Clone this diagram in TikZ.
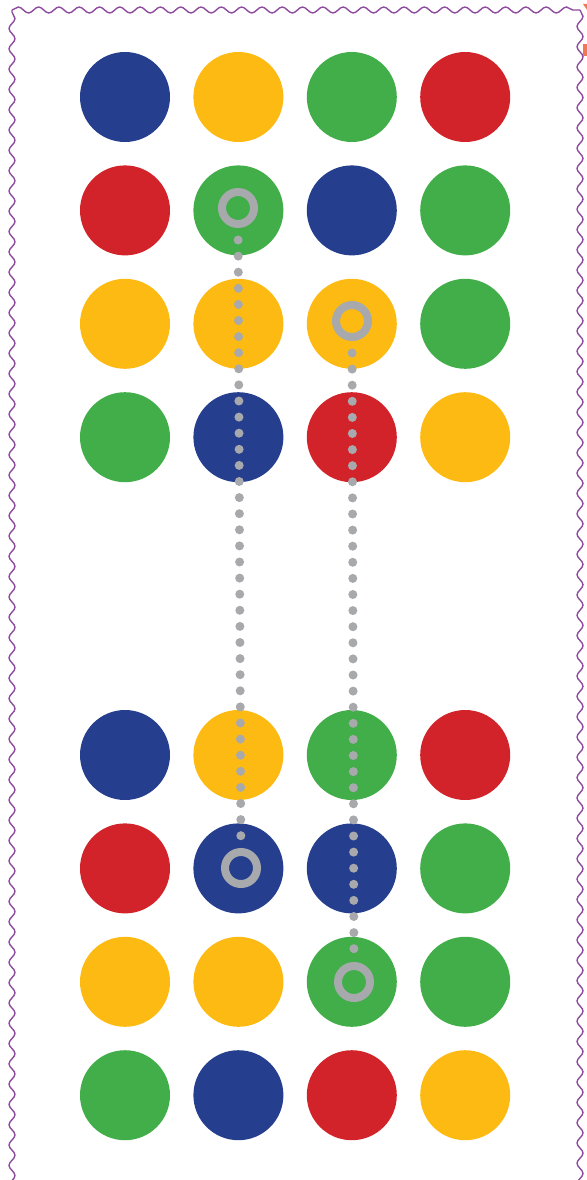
\documentclass[tikz,border=0pt]{standalone}
\usetikzlibrary{decorations.pathmorphing}
\definecolor{blue}{HTML}{253F8E}
\definecolor{yellow}{HTML}{FDBA13}
\definecolor{green}{HTML}{41AE4A}
\definecolor{red}{HTML}{D2232A}
\definecolor{grey}{HTML}{A7A9AC}
\definecolor{purple}{HTML}{8E4C9E}
\definecolor{orange}{HTML}{F07A4F}

\begin{document}
\begin{tikzpicture}[x=1pt,y=-1pt,
dot/.style={circle,minimum size=90pt,inner sep=0pt},
ring/.style={circle,draw=grey,line width=8pt,minimum size=32pt,inner sep=0pt},
trail/.style={grey,line width=9pt,line cap=round,dash pattern=on 0pt off 16.1pt,shorten <=32pt,shorten >=32pt},
border/.style={purple,line width=1.4pt,decorate,decoration={snake,segment length=20.3pt,amplitude=3pt}}]
 \useasboundingbox (0,0) rectangle (586,1180);
 \coordinate (cornerA) at (12,1192);
 \coordinate (cornerB) at (12,10);
 \coordinate (cornerC) at (580,10);
 \coordinate (cornerD) at (580,1192);
 \draw[border] (cornerA) -- (cornerB);
 \draw[border] (cornerB) -- (cornerC);
 \draw[border] (cornerC) -- (cornerD);
 \fill[orange] (583,4) -- (592,4) -- (592,17) -- cycle;
 \fill[orange] (583,44) rectangle (592,56);
 % top grid
 \foreach \row [count=\r] in {{blue,yellow,green,red},{red,green,blue,green},{yellow,yellow,yellow,green},{green,blue,red,yellow}}
  \foreach \c [count=\k] in \row
   \node[dot,fill=\c] (t\r\k) at ({125+113.4*(\k-1)},{97+113.4*(\r-1)}) {};
 % bottom grid
 \foreach \row [count=\r] in {{blue,yellow,green,red},{red,blue,blue,green},{yellow,yellow,green,green},{green,blue,red,yellow}}
  \foreach \c [count=\k] in \row
   \node[dot,fill=\c] (b\r\k) at ({125+113.4*(\k-1)},{755+113.4*(\r-1)}) {};
 \node[ring] (startA) at (238,208) {};
 \node[ring] (startB) at (352,321) {};
 \node[ring] (endA) at (241,868) {};
 \node[ring] (endB) at (354,982) {};
 \draw[trail] (startA.center) -- (endA.center);
 \draw[trail] (startB.center) -- (endB.center);
\end{tikzpicture}
\end{document}
